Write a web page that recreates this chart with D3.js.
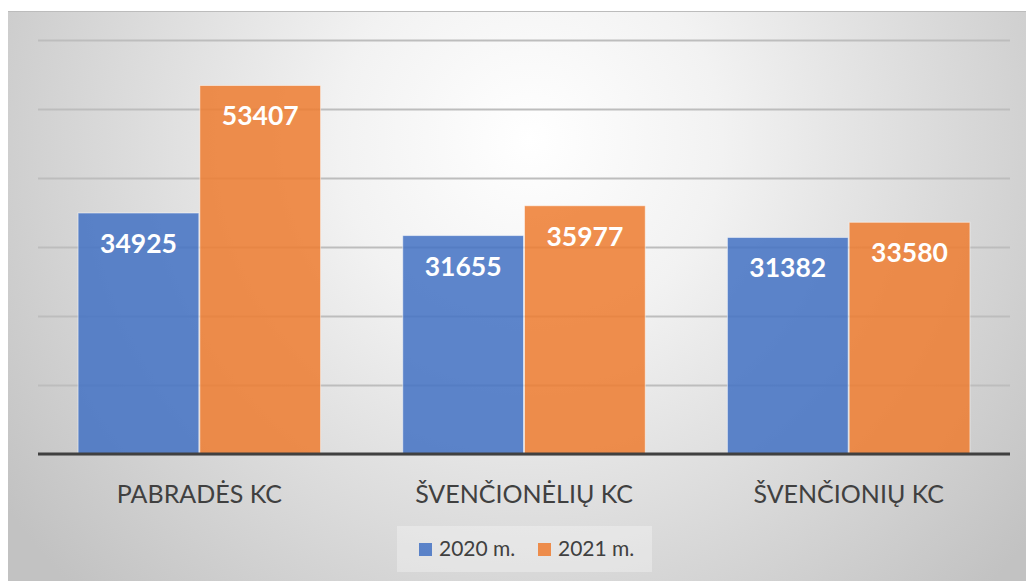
<!DOCTYPE html>
<html><head><meta charset="utf-8">
<script src="https://cdn.jsdelivr.net/npm/d3@7"></script>
<style>html,body{margin:0;padding:0;background:#fff;}svg{display:block;}</style>
</head><body>
<svg id="c" width="1026" height="581"></svg>
<script>
const categories = ["PABRADĖS KC", "ŠVENČIONĖLIŲ KC", "ŠVENČIONIŲ KC"];
const seriesNames = ["2020 m.", "2021 m."];
const values2020 = [34925, 31655, 31382];
const values2021 = [53407, 35977, 33580];
const yTicks = [0, 10000, 20000, 30000, 40000, 50000, 60000];
const colors = ["#4472C4", "#ED7D31"];

const svg = d3.select("#c");
const defs = svg.append("defs");
const g = defs.append("radialGradient").attr("id","bg")
  .attr("gradientUnits","userSpaceOnUse").attr("cx",530).attr("cy",140).attr("r",640);
g.append("stop").attr("offset","0").attr("stop-color","#ffffff");
g.append("stop").attr("offset","0.3").attr("stop-color","#f2f2f2");
g.append("stop").attr("offset","1").attr("stop-color","#c2c2c2");

svg.append("rect").attr("x",8).attr("y",11).attr("width",1018).attr("height",570).attr("fill","url(#bg)");
svg.append("line").attr("x1",8).attr("x2",1026).attr("y1",11.5).attr("y2",11.5).attr("stroke","#bcbcbc").attr("stroke-width",1);

const x0 = d3.scaleBand().domain(categories).range([37,1011]).paddingInner(0.25).paddingOuter(0.125);
const x1 = d3.scaleBand().domain(seriesNames).range([0, x0.bandwidth()]).padding(0);
const y = d3.scaleLinear().domain([0,60000]).range([454,40]);

// gridlines
const grid = svg.append("g").attr("transform","translate(38,0)")
  .call(d3.axisLeft(y).tickValues(yTicks).tickSize(-(1010-38)).tickFormat(""));
grid.select(".domain").remove();
grid.selectAll(".tick line").attr("stroke","#bdbdbd").attr("stroke-width",2).attr("x1",0).attr("x2",1010-38);

const data = categories.map((c,i)=>({cat:c, vals:[values2020[i], values2021[i]]}));
const groups = svg.append("g").selectAll("g").data(data).join("g")
  .attr("transform", d=>`translate(${x0(d.cat)},0)`);
groups.selectAll("rect").data(d=>d.vals.map((v,j)=>({s:seriesNames[j], v, j}))).join("rect")
  .attr("x", d=>x1(d.s)+0.5).attr("width", x1.bandwidth()-1)
  .attr("y", d=>y(d.v)).attr("height", d=>y(0)-y(d.v))
  .attr("fill", d=>colors[d.j]).attr("fill-opacity",0.86)
  .attr("stroke","#ffffff").attr("stroke-opacity",0.5).attr("stroke-width",1);
groups.selectAll("text").data(d=>d.vals.map((v,j)=>({s:seriesNames[j], v, j}))).join("text")
  .attr("x", d=>x1(d.s)+x1.bandwidth()/2).attr("y", d=>y(d.v)+40)
  .attr("text-anchor","middle").attr("fill","#fff")
  .attr("font-family","Lato, 'Open Sans', sans-serif").attr("font-weight","bold").attr("font-size",26.5)
  .text(d=>d.v);

// baseline axis
const xAxis = svg.append("g").attr("transform",`translate(0,${y(0)})`).call(d3.axisBottom(x0).tickSize(0).tickPadding(0));
xAxis.select(".domain").attr("d","M38,0H1010").attr("stroke","#404040").attr("stroke-width",3);
xAxis.selectAll(".tick text").attr("dy",null).attr("y",49)
  .attr("font-family","Lato, 'Open Sans', sans-serif").attr("font-size",25).attr("fill","#404040");

// legend
const leg = svg.append("g");
leg.append("rect").attr("x",397).attr("y",526).attr("width",255).attr("height",46).attr("fill","#ffffff").attr("fill-opacity",0.3);
const legX = [419, 538];
seriesNames.forEach((s,i)=>{
  leg.append("rect").attr("x",legX[i]).attr("y",543).attr("width",13).attr("height",13)
    .attr("fill",colors[i]).attr("fill-opacity",0.86);
  leg.append("text").attr("x",legX[i]+20).attr("y",556).text(s)
    .attr("font-family","Lato, 'Open Sans', sans-serif").attr("font-size",21).attr("fill","#404040");
});
</script>
</body></html>
